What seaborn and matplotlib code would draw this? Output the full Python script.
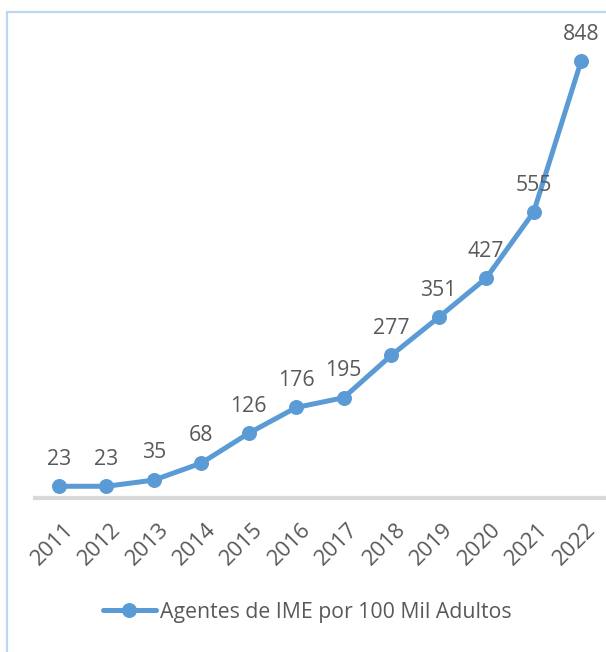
import pandas as pd
import matplotlib.pyplot as plt
import matplotlib.transforms as mtransforms
import seaborn as sns
from matplotlib.lines import Line2D

# --- data ---
years = ['2011', '2012', '2013', '2014', '2015', '2016',
         '2017', '2018', '2019', '2020', '2021', '2022']
agentes = [23, 23, 35, 68, 126, 176, 195, 277, 351, 427, 555, 848]
serie = 'Agentes de IME por 100 Mil Adultos'

df = pd.DataFrame({'Ano': years, 'Valor': agentes})

sns.set_style('white')
plt.rcParams['font.family'] = ['Open Sans', 'DejaVu Sans']

blue = '#5B9BD5'
gray_txt = '#595959'
fs = 15.3

fig = plt.figure(figsize=(6.06, 6.52), dpi=100)
ax = fig.add_axes([0.058, 0.236, 0.94, 0.711])

sns.lineplot(data=df, x='Ano', y='Valor', ax=ax, color=blue, linewidth=3.6,
             marker='o', markersize=10, markeredgecolor=blue, label=serie,
             sort=False)

# rótulos de dados
for i, v in enumerate(agentes):
    ax.annotate(str(v), (i, v), xytext=(0, 12), textcoords='offset points',
                ha='center', va='bottom', fontsize=fs, color=gray_txt)

ax.set_xlim(-0.5, len(years) - 0.5)
ax.set_ylim(0, 900)
ax.set_xlabel('')
ax.set_ylabel('')
ax.set_yticks([])
for s in ['top', 'right', 'left']:
    ax.spines[s].set_visible(False)
ax.spines['bottom'].set_color('#D9D9D9')
ax.spines['bottom'].set_linewidth(3)
ax.tick_params(axis='x', length=0, pad=15, labelsize=fs + 0.5, labelcolor=gray_txt)
shift = mtransforms.ScaledTranslation(4 / 100, 0, fig.dpi_scale_trans)
for lab in ax.get_xticklabels():
    lab.set_rotation(45)
    lab.set_ha('right')
    lab.set_va('top')
    lab.set_rotation_mode('anchor')
    lab.set_transform(lab.get_transform() + shift)

ax.legend(loc='lower center', bbox_to_anchor=(0.478, -0.31), frameon=False,
          fontsize=fs, labelcolor=gray_txt, handlelength=2.5, handletextpad=0.2)

# moldura do gráfico (só topo e esquerda visíveis)
frame_c = '#BDD7EE'
fig.add_artist(Line2D([0.012, 0.012], [0, 0.982], color=frame_c, lw=1.6,
                      transform=fig.transFigure))
fig.add_artist(Line2D([0.012, 1.0], [0.982, 0.982], color=frame_c, lw=1.6,
                      transform=fig.transFigure))

plt.savefig('out.png', dpi=100)
plt.close()
